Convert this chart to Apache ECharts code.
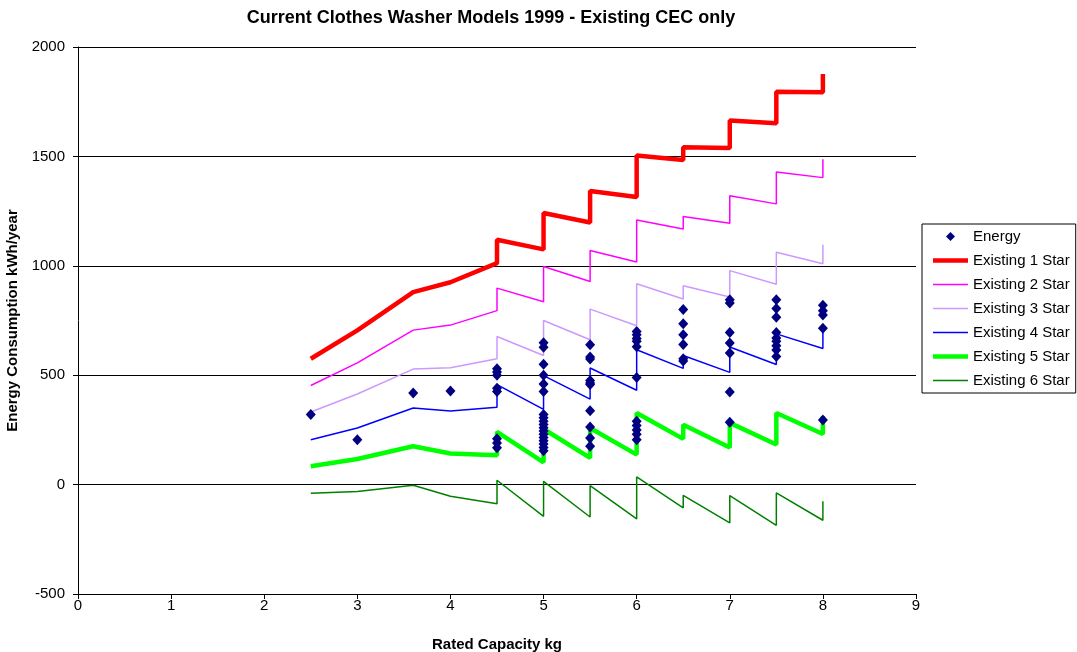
<!DOCTYPE html>
<html>
<head>
<meta charset="utf-8">
<script src="https://cdn.jsdelivr.net/npm/echarts@6/dist/echarts.min.js"></script>
<style>
  html, body { margin: 0; padding: 0; background: #fff; }
  #chart { width: 1077px; height: 652px; }
</style>
</head>
<body>
<div id="chart"></div>
<script>
// capacity points shared by all the star lines (steps at each half kg)
const lineCapacity = [2.5, 3, 3.6, 4, 4.5, 4.5, 5, 5, 5.5, 5.5, 6, 6, 6.5, 6.5, 7, 7, 7.5, 7.5, 8, 8];

const star1 = [575, 705, 880, 925, 1012, 1119, 1075, 1241, 1198, 1342, 1314, 1504, 1484, 1542, 1538, 1664, 1652, 1796, 1793, 1877];
const star2 = [453, 556, 706, 729, 795, 898, 836, 997, 928, 1070, 1017, 1209, 1168, 1225, 1195, 1320, 1283, 1429, 1403, 1487];
const star3 = [332, 414, 528, 534, 575, 677, 590, 750, 662, 802, 726, 918, 848, 909, 857, 978, 916, 1062, 1009, 1096];
const star4 = [205, 259, 350, 336, 353, 457, 344, 498, 391, 533, 431, 616, 531, 590, 513, 629, 549, 689, 622, 711];
const star5 = [84, 117, 175, 142, 134, 241, 102, 254, 122, 259, 137, 327, 209, 274, 170, 282, 183, 327, 231, 312];
const star6 = [-40, -31, -3, -53, -87, 20, -145, 15, -148, -5, -157, 35, -106, -49, -175, -50, -186, -38, -163, -76];

// measured models
const energyCapacity = [
  2.5, 3, 3.6, 4,
  4.5, 4.5, 4.5, 4.5, 4.5, 4.5, 4.5, 4.5,
  5, 5, 5, 5, 5, 5, 5, 5, 5, 5, 5, 5, 5, 5, 5, 5, 5, 5,
  5.5, 5.5, 5.5, 5.5, 5.5, 5.5, 5.5, 5.5, 5.5, 5.5,
  6, 6, 6, 6, 6, 6, 6, 6, 6, 6, 6,
  6.5, 6.5, 6.5, 6.5, 6.5, 6.5,
  7, 7, 7, 7, 7, 7, 7,
  7.5, 7.5, 7.5, 7.5, 7.5, 7.5, 7.5, 7.5, 7.5,
  8, 8, 8, 8, 8
];
const energyValue = [
  320, 205, 419, 428,
  530, 515, 500, 440, 425, 210, 190, 168,
  648, 628, 550, 500, 460, 425, 320, 305, 290, 275, 260, 245, 230, 215, 200, 185, 170, 155,
  639, 583, 574, 476, 464, 457, 338, 263, 213, 175,
  700, 685, 668, 655, 630, 490, 290, 270, 250, 230, 205,
  800, 735, 685, 640, 575, 565,
  845, 830, 695, 647, 601, 423, 285,
  845, 805, 765, 695, 670, 655, 635, 615, 585,
  820, 795, 775, 715, 295
];

const xTicks = [0, 9, 1];
const yTicks = [-500, 2000, 500];

const font = 'Liberation Sans, Arial, sans-serif';

// legend icons: a bar in a 35x14 box, thickness like the series line
const thickIcon = 'path://M0,0 M35,14 M0,4.75H35V9.25H0Z';
const thinIcon = 'path://M0,0 M35,14 M0,6.25H35V7.75H0Z';

function pairs(xs, ys) {
  return xs.map((x, i) => [x, ys[i]]);
}

function starLine(name, values, color, width) {
  return {
    name: name,
    type: 'line',
    data: pairs(lineCapacity, values),
    symbol: 'none',
    color: color,
    itemStyle: { color: color },
    lineStyle: { color: color, width: width },
    z: 2,
  };
}

const chart = echarts.init(document.getElementById('chart'));

chart.setOption({
  animation: false,
  backgroundColor: '#fff',
  textStyle: { fontFamily: font },
  title: {
    text: 'Current Clothes Washer Models 1999 - Existing CEC only',
    left: 486,
    top: 4,
    textAlign: 'center',
    textStyle: { fontFamily: font, fontSize: 18, fontWeight: 'bold', color: '#000' },
  },
  grid: { left: 78, right: 161, top: 47, bottom: 58, containLabel: false, outerBoundsMode: 'none' },
  legend: {
    orient: 'vertical',
    left: 922,
    top: 224,
    padding: [5, 6, 5, 11],
    itemWidth: 35,
    itemHeight: 14,
    itemGap: 9,
    borderColor: '#000',
    borderWidth: 1,
    textStyle: { fontFamily: font, fontSize: 15, color: '#000', lineHeight: 14 },
    data: [
      { name: 'Energy', icon: 'path://M0,0 M35,14 M17.5,2.5L22,7L17.5,11.5L13,7Z' },
      { name: 'Existing 1 Star', icon: thickIcon },
      { name: 'Existing 2 Star', icon: thinIcon },
      { name: 'Existing 3 Star', icon: thinIcon },
      { name: 'Existing 4 Star', icon: thinIcon },
      { name: 'Existing 5 Star', icon: thickIcon },
      { name: 'Existing 6 Star', icon: thinIcon },
    ],
  },
  xAxis: {
    type: 'value',
    min: xTicks[0],
    max: xTicks[1],
    interval: xTicks[2],
    name: 'Rated Capacity kg',
    nameLocation: 'middle',
    nameGap: 43,
    nameTextStyle: { fontFamily: font, fontSize: 15, fontWeight: 'bold', color: '#000' },
    axisLine: { onZero: false, lineStyle: { color: '#000', width: 1 } },
    axisTick: { show: true, length: 5, lineStyle: { color: '#000' } },
    axisLabel: { fontFamily: font, fontSize: 15, color: '#000', margin: 4 },
    splitLine: { show: false },
  },
  yAxis: {
    type: 'value',
    min: yTicks[0],
    max: yTicks[1],
    interval: yTicks[2],
    name: 'Energy Consumption kWh/year',
    nameLocation: 'middle',
    nameGap: 50,
    nameTextStyle: { fontFamily: font, fontSize: 15, fontWeight: 'bold', color: '#000' },
    axisLine: { show: true, onZero: false, lineStyle: { color: '#000', width: 1 } },
    axisTick: { show: true, length: 5, lineStyle: { color: '#000' } },
    axisLabel: { fontFamily: font, fontSize: 15, color: '#000', margin: 13, formatter: (v) => String(v) },
    splitLine: { show: true, lineStyle: { color: '#000', width: 1 } },
  },
  series: [
    {
      name: 'Energy',
      type: 'scatter',
      data: pairs(energyCapacity, energyValue),
      symbol: 'diamond',
      symbolSize: [10, 11],
      color: '#000080',
      itemStyle: { color: '#000080', opacity: 1 },
      z: 5,
    },
    starLine('Existing 1 Star', star1, '#FF0000', 4.5),
    starLine('Existing 2 Star', star2, '#FF00FF', 1.5),
    starLine('Existing 3 Star', star3, '#CC99FF', 1.5),
    starLine('Existing 4 Star', star4, '#0000FF', 1.5),
    starLine('Existing 5 Star', star5, '#00FF00', 4.5),
    starLine('Existing 6 Star', star6, '#008000', 1.5),
  ],
});
</script>
</body>
</html>
